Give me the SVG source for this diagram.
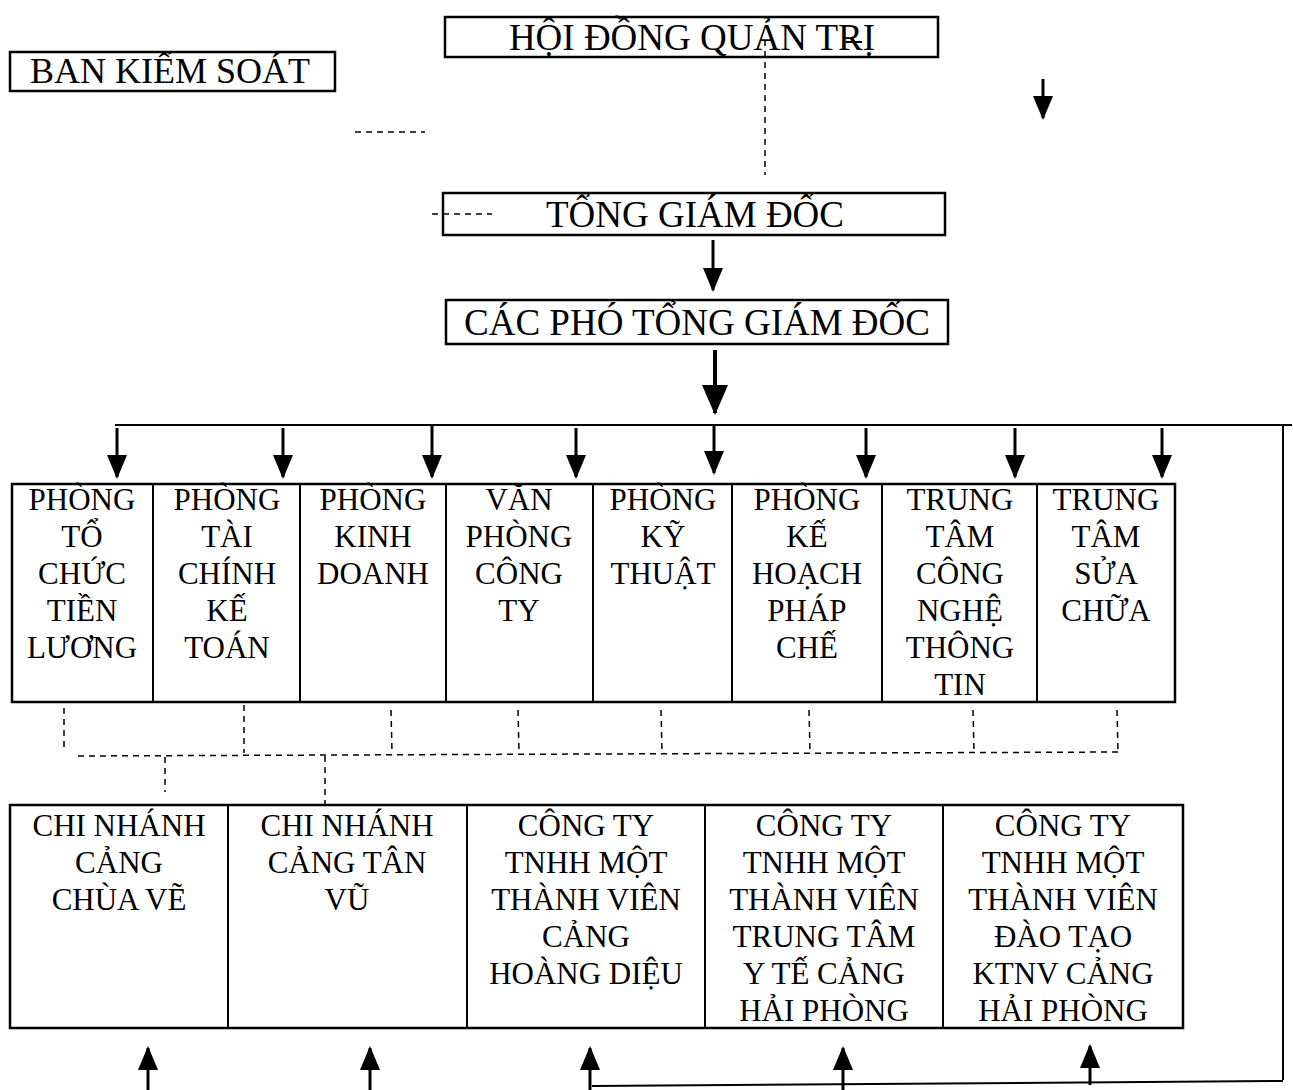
<svg xmlns="http://www.w3.org/2000/svg" width="1293" height="1090" viewBox="0 0 1293 1090">
<defs>
<marker id="ahd" markerUnits="userSpaceOnUse" markerWidth="20" markerHeight="24" refX="10" refY="22" orient="0" viewBox="0 0 20 24">
<path d="M0,0 L20,0 L10,24 Z" fill="#000"/>
</marker>
<marker id="ahu" markerUnits="userSpaceOnUse" markerWidth="20" markerHeight="24" refX="10" refY="2" orient="0" viewBox="0 0 20 24">
<path d="M0,24 L20,24 L10,0 Z" fill="#000"/>
</marker>
<marker id="ahb" markerUnits="userSpaceOnUse" markerWidth="26" markerHeight="30" refX="13" refY="28" orient="0" viewBox="0 0 26 30">
<path d="M0,0 L26,0 L13,30 Z" fill="#000"/>
</marker>
</defs>
<style>
.box{fill:#fff;stroke:#000;stroke-width:2.5}
.ln{stroke:#000;stroke-width:2;fill:none}
.dash{stroke:#000;stroke-width:1.5;fill:none;stroke-dasharray:6,5}
.arr{stroke:#000;stroke-width:3;fill:none;marker-end:url(#ahd)}
.arru{stroke:#000;stroke-width:3;fill:none;marker-end:url(#ahu)}
</style>
<rect width="1293" height="1090" fill="#fff"/>
<g id="hdqt">
<rect class="box" x="445" y="17" width="493" height="40"/>
<text font-family="Liberation Serif" font-size="37" text-anchor="middle" x="692" y="50">HỘI ĐỒNG QUẢN TRỊ</text>
</g>
<g id="bks">
<rect class="box" x="10" y="52" width="325" height="39"/>
<text font-family="Liberation Serif" font-size="36" text-anchor="middle" x="170" y="83">BAN KIỂM SOÁT</text>
</g>
<g id="tgd">
<rect class="box" x="443" y="193" width="502" height="42"/>
<text font-family="Liberation Serif" font-size="37" text-anchor="middle" x="695" y="227">TỔNG GIÁM ĐỐC</text>
</g>
<g id="cptgd">
<rect class="box" x="446" y="300" width="502" height="44"/>
<text font-family="Liberation Serif" font-size="37" text-anchor="middle" x="697" y="335">CÁC PHÓ TỔNG GIÁM ĐỐC</text>
</g>

<g id="departments" font-family="Liberation Serif" font-size="31" text-anchor="middle">
<rect class="box" x="12" y="484" width="1163" height="218"/>
<g class="ln">
<line x1="153" y1="484" x2="153" y2="702"/>
<line x1="300" y1="484" x2="300" y2="702"/>
<line x1="446" y1="484" x2="446" y2="702"/>
<line x1="593" y1="484" x2="593" y2="702"/>
<line x1="732" y1="484" x2="732" y2="702"/>
<line x1="882" y1="484" x2="882" y2="702"/>
<line x1="1037" y1="484" x2="1037" y2="702"/>
</g>
<g id="p-tctl"><text font-family="Liberation Serif" font-size="31" text-anchor="middle"><tspan x="82" y="510">PHÒNG</tspan><tspan x="82" y="547">TỔ</tspan><tspan x="82" y="584">CHỨC</tspan><tspan x="82" y="621">TIỀN</tspan><tspan x="82" y="658">LƯƠNG</tspan></text></g>
<g id="p-tckt"><text font-family="Liberation Serif" font-size="31" text-anchor="middle"><tspan x="227" y="510">PHÒNG</tspan><tspan x="227" y="547">TÀI</tspan><tspan x="227" y="584">CHÍNH</tspan><tspan x="227" y="621">KẾ</tspan><tspan x="227" y="658">TOÁN</tspan></text></g>
<g id="p-kd"><text font-family="Liberation Serif" font-size="31" text-anchor="middle"><tspan x="373" y="510">PHÒNG</tspan><tspan x="373" y="547">KINH</tspan><tspan x="373" y="584">DOANH</tspan></text></g>
<g id="p-vp"><text font-family="Liberation Serif" font-size="31" text-anchor="middle"><tspan x="519" y="510">VĂN</tspan><tspan x="519" y="547">PHÒNG</tspan><tspan x="519" y="584">CÔNG</tspan><tspan x="519" y="621">TY</tspan></text></g>
<g id="p-kt"><text font-family="Liberation Serif" font-size="31" text-anchor="middle"><tspan x="663" y="510">PHÒNG</tspan><tspan x="663" y="547">KỸ</tspan><tspan x="663" y="584">THUẬT</tspan></text></g>
<g id="p-khpc"><text font-family="Liberation Serif" font-size="31" text-anchor="middle"><tspan x="807" y="510">PHÒNG</tspan><tspan x="807" y="547">KẾ</tspan><tspan x="807" y="584">HOẠCH</tspan><tspan x="807" y="621">PHÁP</tspan><tspan x="807" y="658">CHẾ</tspan></text></g>
<g id="p-cntt"><text font-family="Liberation Serif" font-size="31" text-anchor="middle"><tspan x="960" y="510">TRUNG</tspan><tspan x="960" y="547">TÂM</tspan><tspan x="960" y="584">CÔNG</tspan><tspan x="960" y="621">NGHỆ</tspan><tspan x="960" y="658">THÔNG</tspan><tspan x="960" y="695">TIN</tspan></text></g>
<g id="p-sc"><text font-family="Liberation Serif" font-size="31" text-anchor="middle"><tspan x="1106" y="510">TRUNG</tspan><tspan x="1106" y="547">TÂM</tspan><tspan x="1106" y="584">SỬA</tspan><tspan x="1106" y="621">CHỮA</tspan></text></g>
</g>

<g id="units">
<rect class="box" x="10" y="805" width="1173" height="223"/>
<g class="ln">
<line x1="228" y1="805" x2="228" y2="1028"/>
<line x1="467" y1="805" x2="467" y2="1028"/>
<line x1="705" y1="805" x2="705" y2="1028"/>
<line x1="943" y1="805" x2="943" y2="1028"/>
</g>
<g id="u-cv"><text font-family="Liberation Serif" font-size="31" text-anchor="middle"><tspan x="119" y="836">CHI NHÁNH</tspan><tspan x="119" y="873">CẢNG</tspan><tspan x="119" y="910">CHÙA VẼ</tspan></text></g>
<g id="u-tv"><text font-family="Liberation Serif" font-size="31" text-anchor="middle"><tspan x="347" y="836">CHI NHÁNH</tspan><tspan x="347" y="873">CẢNG TÂN</tspan><tspan x="347" y="910">VŨ</tspan></text></g>
<g id="u-hd"><text font-family="Liberation Serif" font-size="31" text-anchor="middle"><tspan x="586" y="836">CÔNG TY</tspan><tspan x="586" y="873">TNHH MỘT</tspan><tspan x="586" y="910">THÀNH VIÊN</tspan><tspan x="586" y="947">CẢNG</tspan><tspan x="586" y="984">HOÀNG DIỆU</tspan></text></g>
<g id="u-yt"><text font-family="Liberation Serif" font-size="31" text-anchor="middle"><tspan x="824" y="836">CÔNG TY</tspan><tspan x="824" y="873">TNHH MỘT</tspan><tspan x="824" y="910">THÀNH VIÊN</tspan><tspan x="824" y="947">TRUNG TÂM</tspan><tspan x="824" y="984">Y TẾ CẢNG</tspan><tspan x="824" y="1021">HẢI PHÒNG</tspan></text></g>
<g id="u-dt"><text font-family="Liberation Serif" font-size="31" text-anchor="middle"><tspan x="1063" y="836">CÔNG TY</tspan><tspan x="1063" y="873">TNHH MỘT</tspan><tspan x="1063" y="910">THÀNH VIÊN</tspan><tspan x="1063" y="947">ĐÀO TẠO</tspan><tspan x="1063" y="984">KTNV CẢNG</tspan><tspan x="1063" y="1021">HẢI PHÒNG</tspan></text></g>
</g>

<g id="connectors">
<line class="ln" x1="846" y1="42" x2="862" y2="42"/>
<line class="dash" x1="765" y1="40" x2="765" y2="175"/>
<line class="dash" x1="355" y1="132" x2="425" y2="132"/>
<line class="dash" x1="432" y1="214" x2="492" y2="214"/>
<line class="arr" x1="1043" y1="79" x2="1043" y2="118"/>
<line class="arr" x1="713" y1="240" x2="713" y2="290"/>
<line stroke="#000" stroke-width="4" marker-end="url(#ahb)" x1="715" y1="350" x2="715" y2="413"/>
<line class="ln" x1="115" y1="425" x2="1292" y2="425"/>
<line class="ln" x1="1283" y1="425" x2="1283" y2="1080"/>
<line class="ln" x1="592" y1="1086" x2="1283" y2="1081"/>
<line class="arr" x1="117" y1="428" x2="117" y2="477"/>
<line class="arr" x1="283" y1="428" x2="283" y2="477"/>
<line class="arr" x1="432" y1="426" x2="432" y2="477"/>
<line class="arr" x1="576" y1="428" x2="576" y2="477"/>
<line class="arr" x1="714" y1="426" x2="714" y2="473"/>
<line class="arr" x1="866" y1="428" x2="866" y2="477"/>
<line class="arr" x1="1015" y1="428" x2="1015" y2="477"/>
<line class="arr" x1="1162" y1="428" x2="1162" y2="477"/>
<line class="dash" x1="64" y1="708" x2="64" y2="750"/>
<line class="dash" x1="244" y1="705" x2="244" y2="753"/>
<line class="dash" x1="391" y1="710" x2="392" y2="752"/>
<line class="dash" x1="518" y1="710" x2="519" y2="752"/>
<line class="dash" x1="661" y1="710" x2="662" y2="752"/>
<line class="dash" x1="809" y1="710" x2="810" y2="752"/>
<line class="dash" x1="973" y1="710" x2="974" y2="752"/>
<line class="dash" x1="1117" y1="710" x2="1118" y2="752"/>
<line class="dash" x1="78" y1="756" x2="1118" y2="752"/>
<line class="dash" x1="165" y1="757" x2="165" y2="792"/>
<line class="dash" x1="325" y1="756" x2="325" y2="805"/>
<line class="arru" x1="148" y1="1090" x2="148" y2="1048"/>
<line class="arru" x1="370" y1="1090" x2="370" y2="1048"/>
<line class="arru" x1="590" y1="1090" x2="590" y2="1048"/>
<line class="arru" x1="843" y1="1090" x2="843" y2="1048"/>
<line class="arru" x1="1090" y1="1085" x2="1090" y2="1046"/>
</g>
</svg>
